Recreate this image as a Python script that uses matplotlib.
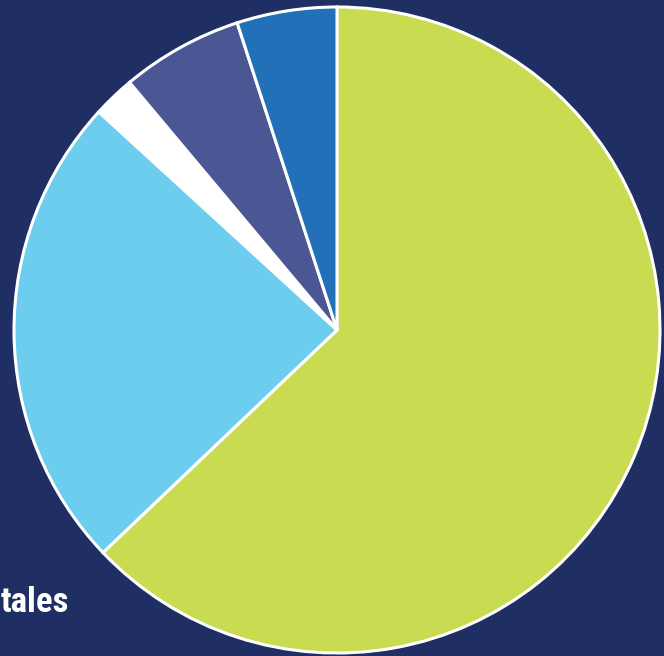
import matplotlib
matplotlib.use("Agg")
import matplotlib.pyplot as plt

# porcentajes de cada sector (en sentido horario desde arriba)
labels = ["A", "B", "C", "D", "E"]
values = [62.9, 23.9, 2.1, 6.1, 5.0]
colors = ["#c9db50", "#6ccdee", "#ffffff", "#4a5794", "#2170b8"]
bg = "#1f2f63"

fig = plt.figure(figsize=(6.64, 6.56), dpi=100)
fig.patch.set_facecolor(bg)
ax = fig.add_axes([0, 0, 1, 1])
ax.set_facecolor(bg)

ax.pie(values, colors=colors, startangle=90, counterclock=False,
       center=(337, 326), radius=323, frame=True,
       wedgeprops=dict(edgecolor="white", linewidth=2.2))
ax.set_xlim(0, 664)
ax.set_ylim(0, 656)
ax.set_aspect("equal")
ax.axis("off")

# parte visible de la etiqueta del borde izquierdo
ax.text(69, 44, "tales", ha="right", va="baseline", color="white",
        fontsize=25, fontweight="bold",
        family=["Roboto Condensed", "Roboto", "DejaVu Sans"])

fig.savefig("out.png", dpi=100, facecolor=fig.get_facecolor())
